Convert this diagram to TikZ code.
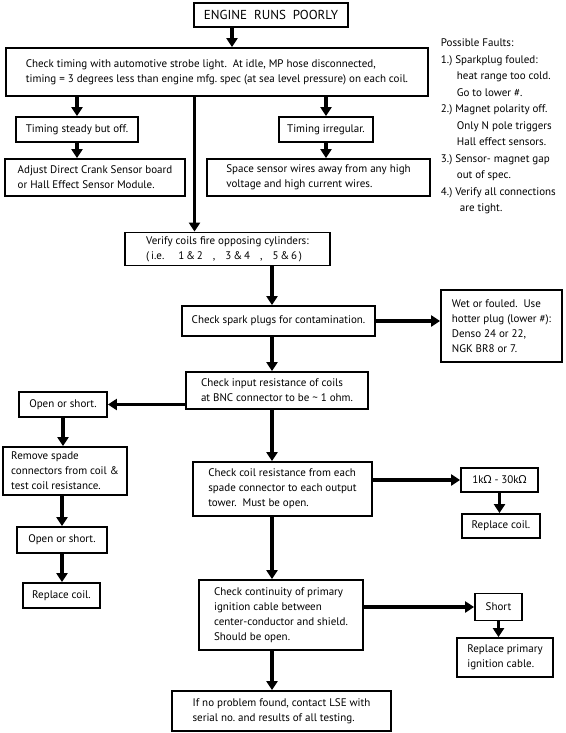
\documentclass[tikz,border=0pt]{standalone}
\usepackage{fontspec}
\setmainfont{PT Sans}
\newfontfamily\grk{Noto Sans}
\usetikzlibrary{arrows.meta}
\frenchspacing

\begin{document}
\begin{tikzpicture}[x=1pt,y=-1pt,
		box/.style={draw,line width=1.8pt,align=left,inner xsep=4pt,inner ysep=2pt,font=\fontsize{11}{15}\selectfont},
		arr/.style={line width=3.4pt,-{Triangle[width=11pt,length=9pt]}}]
	\useasboundingbox (0,0) rectangle (565,733);
	\node[box,minimum width=154pt,minimum height=24pt,font=\fontsize{13}{15}\selectfont] (engine) at (271,15) {ENGINE\ \ RUNS\ \ POORLY};
	\node[box,minimum width=422pt,minimum height=48pt] (timing) at (217,72) {Check timing with automotive strobe light.\ \ At idle, MP hose disconnected,\\timing = 3 degrees less than engine mfg. spec (at sea level pressure) on each coil.};
	\node[box,minimum width=122pt,minimum height=25pt] (steady) at (77,129.5) {Timing steady but off.};
	\node[box,minimum width=180pt,minimum height=37pt] (adjust) at (95,177.5) {Adjust Direct Crank Sensor board\\or Hall Effect Sensor Module.};
	\node[box,minimum width=94pt,minimum height=25pt] (irregular) at (326,129.5) {Timing irregular.};
	\node[box,minimum width=223pt,minimum height=37pt] (space) at (318.5,177.5) {Space sensor wires away from any high\\voltage and high current wires.};
	\node[box,minimum width=205pt,minimum height=33pt] (verify) at (227.5,249) {Verify coils fire opposing cylinders:\\(\,i.e.\hspace{14pt}1\,\&\,2\hspace{10pt},\hspace{10pt}3\,\&\,4\hspace{10pt},\hspace{10pt}5\,\&\,6\,)};
	\node[box,minimum width=193pt,minimum height=30pt] (spark) at (278.5,321) {Check spark plugs for contamination.};
	\node[box,minimum width=121pt,minimum height=72pt] (wet) at (501.5,326) {Wet or fouled.\ \ Use\\hotter plug (lower \#):\\Denso 24 or 22,\\NGK BR8 or 7.};
	\node[box,minimum width=182pt,minimum height=37pt] (input) at (277,390.5) {Check input resistance of coils\\at BNC connector to be \textasciitilde{} 1 ohm.};
	\node[box,minimum width=88pt,minimum height=25pt] (open1) at (63,404.5) {Open or short.};
	\node[box,minimum width=124pt,minimum height=48pt] (remove) at (65,471) {Remove spade\\connectors from coil \&\\test coil resistance.};
	\node[box,minimum width=179pt,minimum height=54pt] (coil) at (282.5,489) {Check coil resistance from each\\spade connector to each output\\tower.\ \ Must be open.};
	\node[box,minimum width=77pt,minimum height=24pt] (kohm) at (499.5,480) {1k{\grk Ω} - 30k{\grk Ω}};
	\node[box,minimum width=78pt,minimum height=24pt] (replace1) at (501,526) {Replace coil.};
	\node[box,minimum width=90pt,minimum height=26pt] (open2) at (62,540) {Open or short.};
	\node[box,minimum width=77pt,minimum height=25pt] (replace2) at (61.5,595.5) {Replace coil.};
	\node[box,minimum width=164pt,minimum height=70pt] (cont) at (281,615) {Check continuity of primary\\ignition cable between\\center-conductor and shield.\\Should be open.};
	\node[box,minimum width=47pt,minimum height=27pt] (short) at (498.5,607) {Short};
	\node[box,minimum width=96pt,minimum height=39pt] (replprim) at (505,657.5) {Replace primary\\ignition cable.};
	\node[box,minimum width=219pt,minimum height=40pt] (final) at (281.5,711) {If no problem found, contact LSE with\\serial no. and results of all testing.};
	\node[box,draw=none,anchor=north west,inner xsep=0pt,font=\fontsize{11}{16.5}\selectfont] (faults) at (440,36) {Possible Faults:\\1.) Sparkplug fouled:\\\hspace*{16pt}heat range too cold.\\\hspace*{16pt}Go to lower \#.\\2.) Magnet polarity off.\\\hspace*{16pt}Only N pole triggers\\\hspace*{16pt}Hall effect sensors.\\3.) Sensor- magnet gap\\\hspace*{16pt}out of spec.\\4.) Verify all connections\\\hspace*{19pt}are tight.};
	\coordinate (tdrop) at ([xshift=-39pt]engine.south);
	\coordinate (vdrop) at ([xshift=-33pt]verify.north);
	\coordinate (spine) at (272,0);
	\draw[arr] (tdrop) -- (tdrop |- timing.north);
	\draw[arr] (timing.south -| steady) -- (steady.north);
	\draw[arr] (steady.south) -- (steady.south |- adjust.north);
	\draw[arr] (timing.south -| irregular) -- (irregular.north);
	\draw[arr] (irregular.south) -- (irregular.south |- space.north);
	\draw[arr] (timing.south -| vdrop) -- (vdrop);
	\draw[arr] (verify.south -| spine) -- (spark.north -| spine);
	\draw[arr] (spark.east) -- (spark.east -| wet.west);
	\draw[arr] (spark.south -| spine) -- (input.north -| spine);
	\draw[arr] (input.west |- open1) -- (open1.east);
	\draw[arr] (open1.south) -- (open1.south |- remove.north);
	\draw[arr] (remove.south -| open2) -- (open2.north);
	\draw[arr] (open2.south) -- (open2.south |- replace2.north);
	\draw[arr] (input.south -| spine) -- (coil.north -| spine);
	\draw[arr] (coil.east |- kohm) -- (kohm.west);
	\draw[arr] (kohm.south) -- (kohm.south |- replace1.north);
	\draw[arr] (coil.south -| spine) -- (cont.north -| spine);
	\draw[arr] (cont.east |- short) -- (short.west);
	\draw[arr] (short.south) -- (short.south |- replprim.north);
	\draw[arr] (cont.south -| spine) -- (final.north -| spine);
\end{tikzpicture}
\end{document}
